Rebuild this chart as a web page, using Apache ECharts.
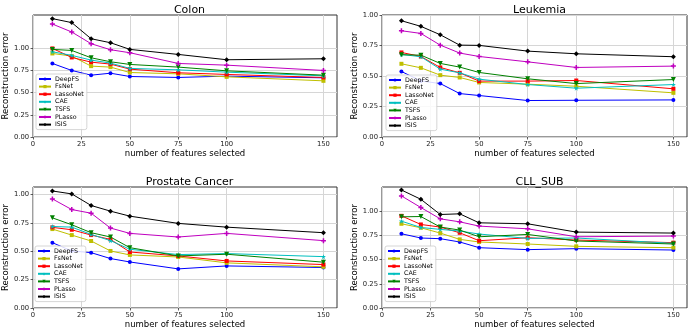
<!DOCTYPE html>
<html>
<head>
<meta charset="utf-8">
<script src="https://cdn.jsdelivr.net/npm/echarts@6/dist/echarts.min.js"></script>
<style>
html,body{margin:0;padding:0;background:#fff;}
#chart{width:692px;height:333px;}
</style>
</head>
<body>
<div id="chart"></div>
<script>
const featureCounts = [10, 20, 30, 40, 50, 75, 100, 150];
const methods = ['DeepFS', 'FsNet', 'LassoNet', 'CAE', 'TSFS', 'PLasso', 'ISIS'];
const xTicks = [0, 25, 50, 75, 100, 150];
const yTicks = [0, 0.25, 0.5, 0.75, 1.0];
const panelTitles = ['Colon', 'Leukemia', 'Prostate Cancer', 'CLL_SUB'];

// rows follow the order of `methods`
const colonErrors = [
  [0.83, 0.751, 0.698, 0.72, 0.683, 0.672, 0.687, 0.668],
  [0.943, 0.913, 0.80, 0.789, 0.728, 0.713, 0.679, 0.634],
  [1.0, 0.898, 0.845, 0.823, 0.766, 0.725, 0.706, 0.672],
  [0.962, 0.921, 0.868, 0.834, 0.774, 0.758, 0.732, 0.69],
  [0.989, 0.977, 0.894, 0.849, 0.819, 0.789, 0.747, 0.698],
  [1.275, 1.185, 1.053, 0.985, 0.951, 0.83, 0.811, 0.751],
  [1.336, 1.291, 1.109, 1.064, 0.989, 0.932, 0.872, 0.883]
];
const leukemiaErrors = [
  [0.537, 0.46, 0.438, 0.356, 0.34, 0.299, 0.301, 0.304],
  [0.60, 0.567, 0.507, 0.488, 0.447, 0.433, 0.416, 0.362],
  [0.693, 0.66, 0.57, 0.526, 0.458, 0.458, 0.463, 0.395],
  [0.677, 0.658, 0.556, 0.526, 0.474, 0.43, 0.40, 0.43],
  [0.674, 0.671, 0.603, 0.573, 0.529, 0.477, 0.438, 0.471],
  [0.871, 0.849, 0.753, 0.688, 0.66, 0.616, 0.57, 0.581],
  [0.953, 0.907, 0.838, 0.753, 0.751, 0.704, 0.682, 0.658]
];
const prostateErrors = [
  [0.576, 0.503, 0.488, 0.436, 0.406, 0.345, 0.371, 0.357],
  [0.696, 0.643, 0.591, 0.503, 0.468, 0.45, 0.398, 0.363],
  [0.711, 0.69, 0.643, 0.605, 0.494, 0.459, 0.415, 0.383],
  [0.719, 0.713, 0.649, 0.594, 0.518, 0.471, 0.48, 0.453],
  [0.795, 0.734, 0.664, 0.626, 0.532, 0.459, 0.474, 0.404],
  [0.962, 0.868, 0.836, 0.705, 0.658, 0.626, 0.658, 0.594],
  [1.032, 1.006, 0.904, 0.854, 0.81, 0.746, 0.713, 0.664]
];
const cllSubErrors = [
  [0.767, 0.723, 0.716, 0.682, 0.623, 0.603, 0.613, 0.599],
  [0.87, 0.829, 0.774, 0.709, 0.682, 0.661, 0.637, 0.623],
  [0.952, 0.863, 0.836, 0.777, 0.695, 0.726, 0.702, 0.675],
  [0.897, 0.832, 0.812, 0.795, 0.764, 0.719, 0.723, 0.668],
  [0.942, 0.945, 0.836, 0.805, 0.736, 0.76, 0.692, 0.661],
  [1.158, 1.038, 0.921, 0.89, 0.846, 0.818, 0.736, 0.743],
  [1.219, 1.123, 0.966, 0.973, 0.88, 0.87, 0.784, 0.774]
];
const panelErrors = [colonErrors, leukemiaErrors, prostateErrors, cllSubErrors];

// ----- styles / layout -----
const colors = ['#0000ff', '#bfbf00', '#ff0000', '#00bfbf', '#008000', '#bf00bf', '#000000'];
const plusPath = 'path://M35,0 L65,0 L65,35 L100,35 L100,65 L65,65 L65,100 L35,100 L35,65 L0,65 L0,35 L35,35 Z';
const symbols = ['circle', 'rect', 'rect', 'path://M50,0 L61,35 L98,35 L68,57 L79,92 L50,70 L21,92 L32,57 L2,35 L39,35 Z', 'path://M0,0 L100,0 L50,90 Z', plusPath, 'diamond'];
const symbolSizes = [4, 4, 4, 5, 5, 5, 5];
const yMax = [1.377, 1.0, 1.067, 1.25];
const grids = [
  {left: 32, top: 15, width: 305, height: 122},
  {left: 382, top: 15, width: 305, height: 122},
  {left: 32, top: 187, width: 305, height: 121},
  {left: 382, top: 187, width: 305, height: 121}
];
const legendPos = [
  {left: 36, top: 74},
  {left: 386, top: 75},
  {left: 35, top: 246},
  {left: 385, top: 246}
];
const FONT = 'DejaVu Sans';

const option = {
  animation: false,
  backgroundColor: '#fff',
  title: [], grid: [], xAxis: [], yAxis: [], legend: [], series: []
};

grids.forEach((g, i) => {
  option.grid.push(Object.assign({show: true, borderColor: '#333', borderWidth: 1, backgroundColor: 'transparent'}, g));
  option.title.push({
    text: panelTitles[i],
    left: g.left + g.width / 2,
    top: g.top - 15,
    textAlign: 'center',
    textStyle: {fontFamily: FONT, fontSize: 11, fontWeight: 'normal', color: '#000'}
  });
  option.xAxis.push({
    type: 'value', gridIndex: i, min: 0, max: 157,
    name: 'number of features selected', nameLocation: 'middle', nameGap: 12,
    nameTextStyle: {fontFamily: FONT, fontSize: 8.5, color: '#000'},
    axisLine: {show: false},
    axisTick: {show: true, length: 2.5, lineStyle: {color: '#333', width: 0.8}, customValues: xTicks},
    axisLabel: {fontFamily: FONT, fontSize: 6.8, color: '#222', margin: 4, customValues: xTicks},
    splitLine: {show: true, lineStyle: {color: '#d6d6d6', width: 1}}
  });
  option.yAxis.push({
    type: 'value', gridIndex: i, min: 0, max: yMax[i],
    name: 'Reconstruction error', nameLocation: 'middle', nameGap: 20,
    nameTextStyle: {fontFamily: FONT, fontSize: 8.5, color: '#000'},
    axisLine: {show: false},
    axisTick: {show: true, length: 2.5, lineStyle: {color: '#333', width: 0.8}, customValues: yTicks},
    axisLabel: {fontFamily: FONT, fontSize: 6.8, color: '#222', margin: 4, customValues: yTicks,
      formatter: v => v.toFixed(2)},
    splitLine: {show: true, lineStyle: {color: '#d6d6d6', width: 1}}
  });
  const ids = [];
  methods.forEach((m, k) => {
    const id = 'p' + i + '_' + m;
    ids.push(m);
    option.series.push({
      type: 'line', name: m, xAxisIndex: i, yAxisIndex: i,
      data: featureCounts.map((x, j) => [x, panelErrors[i][k][j]]),
      symbol: symbols[k], symbolSize: symbolSizes[k], showSymbol: true,
      itemStyle: {color: colors[k]},
      lineStyle: {color: colors[k], width: 1},
      z: 3 + k
    });
  });
  option.legend.push({
    data: methods.map((m, k) => ({name: m})),
    orient: 'vertical', left: legendPos[i].left, top: legendPos[i].top,
    itemWidth: 12, itemHeight: 4, itemGap: 1.6,
    padding: [2, 3, 2, 2],
    backgroundColor: 'rgba(255,255,255,0.85)', borderColor: '#ccc', borderWidth: 0.8, borderRadius: 2,
    textStyle: {fontFamily: FONT, fontSize: 6.3, color: '#000', padding: [0, 0, 0, -1]},
    selectedMode: false
  });
});

const chart = echarts.init(document.getElementById('chart'), null, {renderer: 'canvas'});
chart.setOption(option);
</script>
</body>
</html>
